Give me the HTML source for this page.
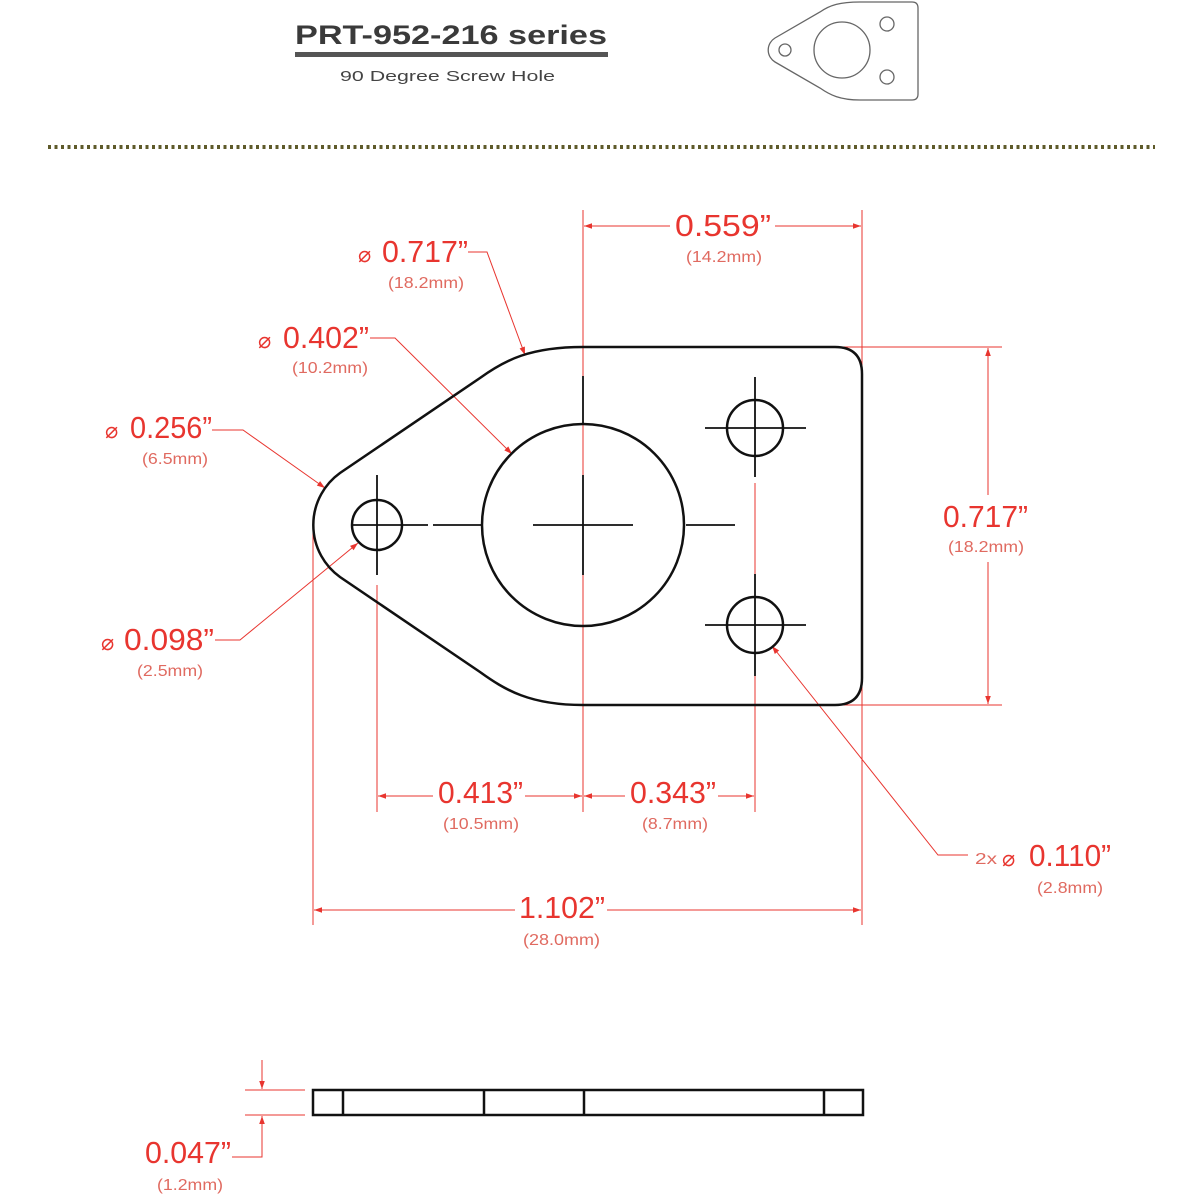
<!DOCTYPE html>
<html><head><meta charset="utf-8"><style>
html,body{margin:0;padding:0;background:#fff;}
svg{display:block;}
.r{fill:#e8352f;font-family:"Liberation Sans",sans-serif;}
.b{font-size:31px;}
.s{font-size:16px;fill:#e06a60;}
</style></head><body>
<svg width="1199" height="1200" viewBox="0 0 1199 1200" xmlns="http://www.w3.org/2000/svg">
<defs>
<marker id="a" viewBox="0 0 10 10" refX="10" refY="5" markerWidth="14" markerHeight="8" orient="auto-start-reverse" markerUnits="userSpaceOnUse"><path d="M0 1.5 L10 5 L0 8.5 Z" fill="#e8352f"/></marker>
</defs>
<!-- header -->
<text x="295" y="44" font-family="Liberation Sans,sans-serif" font-weight="bold" font-size="27" fill="#3a3a3a" textLength="312" lengthAdjust="spacingAndGlyphs">PRT-952-216 series</text>
<rect x="295" y="52" width="313" height="5" fill="#555"/>
<text x="340" y="81" font-family="Liberation Sans,sans-serif" font-size="15" fill="#444" textLength="215" lengthAdjust="spacingAndGlyphs">90 Degree Screw Hole</text>
<g fill="none" stroke="#666" stroke-width="1.3">
<path d="M860 2 L912 2 Q918 2 918 8 L918 94 Q918 100 912 100 L860 100 C840 100 830 95 820 88 L775 62 A14 14 0 0 1 775 38 L820 12 C830 5 840 2 860 2 Z"/>
<circle cx="785" cy="50" r="6"/><circle cx="842" cy="50" r="28"/><circle cx="887" cy="24" r="7"/><circle cx="887" cy="77" r="7"/>
</g>
<line x1="48" y1="147" x2="1155" y2="147" stroke="#5e5a2a" stroke-width="4" stroke-dasharray="3 3.5"/>

<!-- red extension lines -->
<g stroke="#e8352f" stroke-width="1" fill="none">
<line x1="583" y1="210" x2="583" y2="812"/>
<line x1="862" y1="210" x2="862" y2="925"/>
<line x1="313" y1="525" x2="313" y2="925"/>
<line x1="377" y1="585" x2="377" y2="812"/>
<line x1="755" y1="483" x2="755" y2="812"/>
<line x1="830" y1="347" x2="1002" y2="347"/>
<line x1="830" y1="705" x2="1002" y2="705"/>
<line x1="670" y1="226" x2="584" y2="226" marker-end="url(#a)"/>
<line x1="775" y1="226" x2="861" y2="226" marker-end="url(#a)"/>
<line x1="988" y1="495" x2="988" y2="348" marker-end="url(#a)"/>
<line x1="988" y1="562" x2="988" y2="704" marker-end="url(#a)"/>
<line x1="433" y1="796" x2="378" y2="796" marker-end="url(#a)"/>
<line x1="525" y1="796" x2="582" y2="796" marker-end="url(#a)"/>
<line x1="625" y1="796" x2="584" y2="796" marker-end="url(#a)"/>
<line x1="718" y1="796" x2="754" y2="796" marker-end="url(#a)"/>
<line x1="515" y1="910" x2="314" y2="910" marker-end="url(#a)"/>
<line x1="607" y1="910" x2="861" y2="910" marker-end="url(#a)"/>
<polyline points="468,252 487,252 525,355" marker-end="url(#a)"/>
<polyline points="370,338 395,338 512,454" marker-end="url(#a)"/>
<polyline points="212,430 243,430 325,488" marker-end="url(#a)"/>
<polyline points="215,640 240,640 358,543" marker-end="url(#a)"/>
<polyline points="968,855 938,855 772,646" marker-end="url(#a)"/>
<line x1="245" y1="1090" x2="305" y2="1090"/>
<line x1="245" y1="1115" x2="305" y2="1115"/>
<line x1="262" y1="1060" x2="262" y2="1089" marker-end="url(#a)"/>
<polyline points="232,1157 262,1157 262,1116" marker-end="url(#a)"/>
</g>

<!-- part -->
<g fill="none" stroke="#111" stroke-width="2.5">
<path d="M583 347 L835 347 Q862 347 862 374 L862 678 Q862 705 835 705 L583 705 C530 705 505 690 480 672 L340 577 A64 64 0 0 1 340 473 L480 378 C505 360 530 347 583 347 Z"/>
<circle cx="377" cy="525" r="25"/>
<circle cx="583" cy="525" r="101"/>
<circle cx="755" cy="428" r="28"/>
<circle cx="755" cy="625" r="28"/>
</g>
<g stroke="#111" stroke-width="1.8">
<line x1="353" y1="525" x2="428" y2="525"/><line x1="377" y1="475" x2="377" y2="575"/>
<line x1="433" y1="525" x2="482" y2="525"/><line x1="686" y1="525" x2="735" y2="525"/>
<line x1="533" y1="525" x2="633" y2="525"/><line x1="583" y1="475" x2="583" y2="575"/>
<line x1="583" y1="376" x2="583" y2="424"/>
<line x1="705" y1="428" x2="806" y2="428"/><line x1="755" y1="377" x2="755" y2="477"/>
<line x1="705" y1="625" x2="806" y2="625"/><line x1="755" y1="574" x2="755" y2="676"/>
</g>
<!-- side view -->
<g fill="none" stroke="#111" stroke-width="2.5">
<rect x="313" y="1090" width="550" height="25"/>
<line x1="343" y1="1090" x2="343" y2="1115"/>
<line x1="484" y1="1090" x2="484" y2="1115"/>
<line x1="584" y1="1090" x2="584" y2="1115"/>
<line x1="824" y1="1090" x2="824" y2="1115"/>
</g>

<!-- labels -->
<text class="r b" x="675" y="236" textLength="96" lengthAdjust="spacingAndGlyphs">0.559”</text>
<text class="r s" x="686" y="262" textLength="76" lengthAdjust="spacingAndGlyphs">(14.2mm)</text>
<text class="r" x="358" y="262" font-size="22">⌀</text>
<text class="r b" x="382" y="262" textLength="86" lengthAdjust="spacingAndGlyphs">0.717”</text>
<text class="r s" x="388" y="288" textLength="76" lengthAdjust="spacingAndGlyphs">(18.2mm)</text>
<text class="r" x="258" y="348" font-size="22">⌀</text>
<text class="r b" x="283" y="348" textLength="86" lengthAdjust="spacingAndGlyphs">0.402”</text>
<text class="r s" x="292" y="373" textLength="76" lengthAdjust="spacingAndGlyphs">(10.2mm)</text>
<text class="r" x="105" y="438" font-size="22">⌀</text>
<text class="r b" x="130" y="438" textLength="82" lengthAdjust="spacingAndGlyphs">0.256”</text>
<text class="r s" x="142" y="464" textLength="66" lengthAdjust="spacingAndGlyphs">(6.5mm)</text>
<text class="r" x="101" y="650" font-size="22">⌀</text>
<text class="r b" x="124" y="650" textLength="90" lengthAdjust="spacingAndGlyphs">0.098”</text>
<text class="r s" x="137" y="676" textLength="66" lengthAdjust="spacingAndGlyphs">(2.5mm)</text>
<text class="r b" x="943" y="527" textLength="85" lengthAdjust="spacingAndGlyphs">0.717”</text>
<text class="r s" x="948" y="552" textLength="76" lengthAdjust="spacingAndGlyphs">(18.2mm)</text>
<text class="r b" x="438" y="803" textLength="85" lengthAdjust="spacingAndGlyphs">0.413”</text>
<text class="r s" x="443" y="829" textLength="76" lengthAdjust="spacingAndGlyphs">(10.5mm)</text>
<text class="r b" x="630" y="803" textLength="86" lengthAdjust="spacingAndGlyphs">0.343”</text>
<text class="r s" x="642" y="829" textLength="66" lengthAdjust="spacingAndGlyphs">(8.7mm)</text>
<text class="r b" x="519" y="918" textLength="86" lengthAdjust="spacingAndGlyphs">1.102”</text>
<text class="r s" x="523" y="945" textLength="77" lengthAdjust="spacingAndGlyphs">(28.0mm)</text>
<text class="r s" x="975" y="864" font-size="18" textLength="22" lengthAdjust="spacingAndGlyphs">2x</text>
<text class="r" x="1002" y="866" font-size="22">⌀</text>
<text class="r b" x="1029" y="866" textLength="82" lengthAdjust="spacingAndGlyphs">0.110”</text>
<text class="r s" x="1037" y="893" textLength="66" lengthAdjust="spacingAndGlyphs">(2.8mm)</text>
<text class="r b" x="145" y="1163" textLength="86" lengthAdjust="spacingAndGlyphs">0.047”</text>
<text class="r s" x="157" y="1190" textLength="66" lengthAdjust="spacingAndGlyphs">(1.2mm)</text>
</svg>
</body></html>
